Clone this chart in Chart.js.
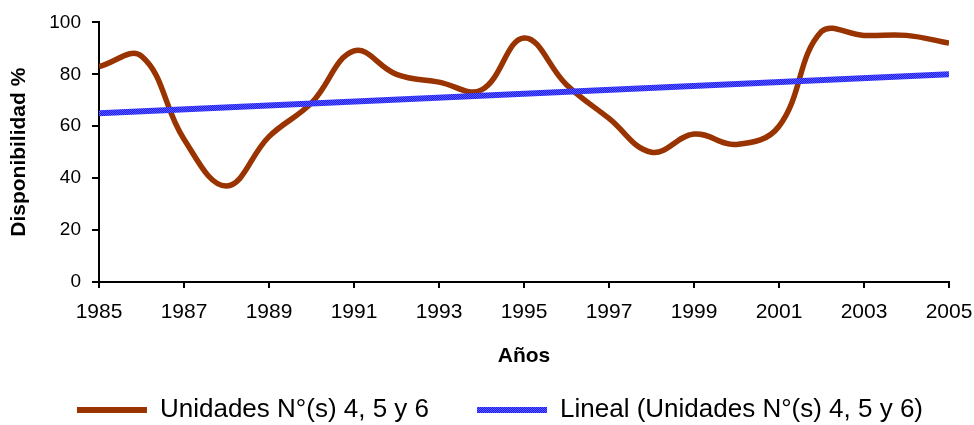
<!DOCTYPE html>
<html>
<head>
<meta charset="utf-8">
<script src="https://cdn.jsdelivr.net/npm/chart.js@4.4.1/dist/chart.umd.min.js"></script>
<style>
html,body{margin:0;padding:0;background:#fff;}
#wrap{width:974px;height:425px;}
</style>
</head>
<body>
<div id="wrap"><canvas id="chart"></canvas></div>
<script>
/* DATOS */
const years = [1985,1986,1987,1988,1989,1990,1991,1992,1993,1994,1995,1996,1997,1998,1999,2000,2001,2002,2003,2004,2005];
const disponibilidad = [83,87,55,37,56,69,89,80,77,74,94,76,63,50,57,53,60,96.5,95,95,92];
const trendYears = [1985,2005];
const trendValues = [65,80];
const xTicks = [1985,1987,1989,1991,1993,1995,1997,1999,2001,2003,2005];

/* TRAMA DE LA LINEA DE TENDENCIA */
function bluePattern(){
  const c = document.createElement("canvas");
  c.width = 2; c.height = 2;
  const g = c.getContext("2d");
  g.fillStyle = "#1a1aff"; g.fillRect(0,0,2,2);
  g.fillStyle = "#5c5cff"; g.fillRect(0,0,1,1); g.fillRect(1,1,1,1);
  return g.createPattern(c,"repeat");
}

/* mover la leyenda (como en el original, algo a la derecha y arriba) */
const moveLegend = {
  id:"moveLegend",
  afterLayout(chart){
    const lg = chart.legend;
    lg.left += 20; lg.right += 20;
    lg.top -= 26; lg.bottom = chart.height;
  }
};

Chart.defaults.font.family = "'Liberation Sans', Arial, sans-serif";
Chart.defaults.color = "#000";

new Chart(document.getElementById("chart"),{
  type:"line",
  data:{
    datasets:[
      {
        label:"Unidades N°(s) 4, 5 y 6",
        data: years.map((y,i)=>({x:y,y:disponibilidad[i]})),
        borderColor:"#993300",
        backgroundColor:"#993300",
        borderWidth:5.5,
        pointRadius:0,
        tension:0.4,
        order:1
      },
      {
        label:"Lineal (Unidades N°(s) 4, 5 y 6)",
        data: trendYears.map((y,i)=>({x:y,y:trendValues[i]})),
        borderColor:bluePattern(),
        borderWidth:6,
        pointRadius:0,
        order:0
      }
    ]
  },
  options:{
    responsive:true,
    maintainAspectRatio:false,
    animation:false,
    layout:{padding:{top:20,right:14,left:0,bottom:0}},
    plugins:{
      tooltip:{enabled:false},
      legend:{
        position:"bottom",
        maxHeight:50,
        labels:{
          font:{size:26},
          boxWidth:70,
          boxHeight:6,
          padding:48,
          sort:(a,b)=>a.datasetIndex-b.datasetIndex,
          generateLabels(chart){
            return Chart.defaults.plugins.legend.labels.generateLabels(chart).map(it=>{
              it.fillStyle = it.strokeStyle;
              it.lineWidth = 0;
              return it;
            });
          }
        }
      }
    },
    scales:{
      x:{
        type:"linear",
        min:1985,
        max:2005,
        afterBuildTicks:s=>{ s.ticks = xTicks.map(v=>({value:v})); },
        afterFit:s=>{ s.height = 93; s.paddingRight = 25; },
        border:{color:"#000",width:2},
        grid:{drawOnChartArea:false,color:"#000",lineWidth:2,tickLength:6},
        ticks:{font:{size:21},padding:12,maxRotation:0,callback:v=>String(v)},
        title:{display:true,text:"Años",font:{size:21,weight:"bold"},padding:{top:0,bottom:6}}
      },
      y:{
        min:0,
        max:100,
        afterFit:s=>{ s.width = 99; },
        border:{color:"#000",width:2},
        grid:{drawOnChartArea:false,color:"#000",lineWidth:2,tickLength:7},
        ticks:{stepSize:20,font:{size:19},padding:11},
        title:{display:true,text:"Disponibilidad %",font:{size:21,weight:"bold"},padding:{top:7,bottom:0}}
      }
    }
  },
  plugins:[moveLegend]
});
</script>
</body>
</html>
